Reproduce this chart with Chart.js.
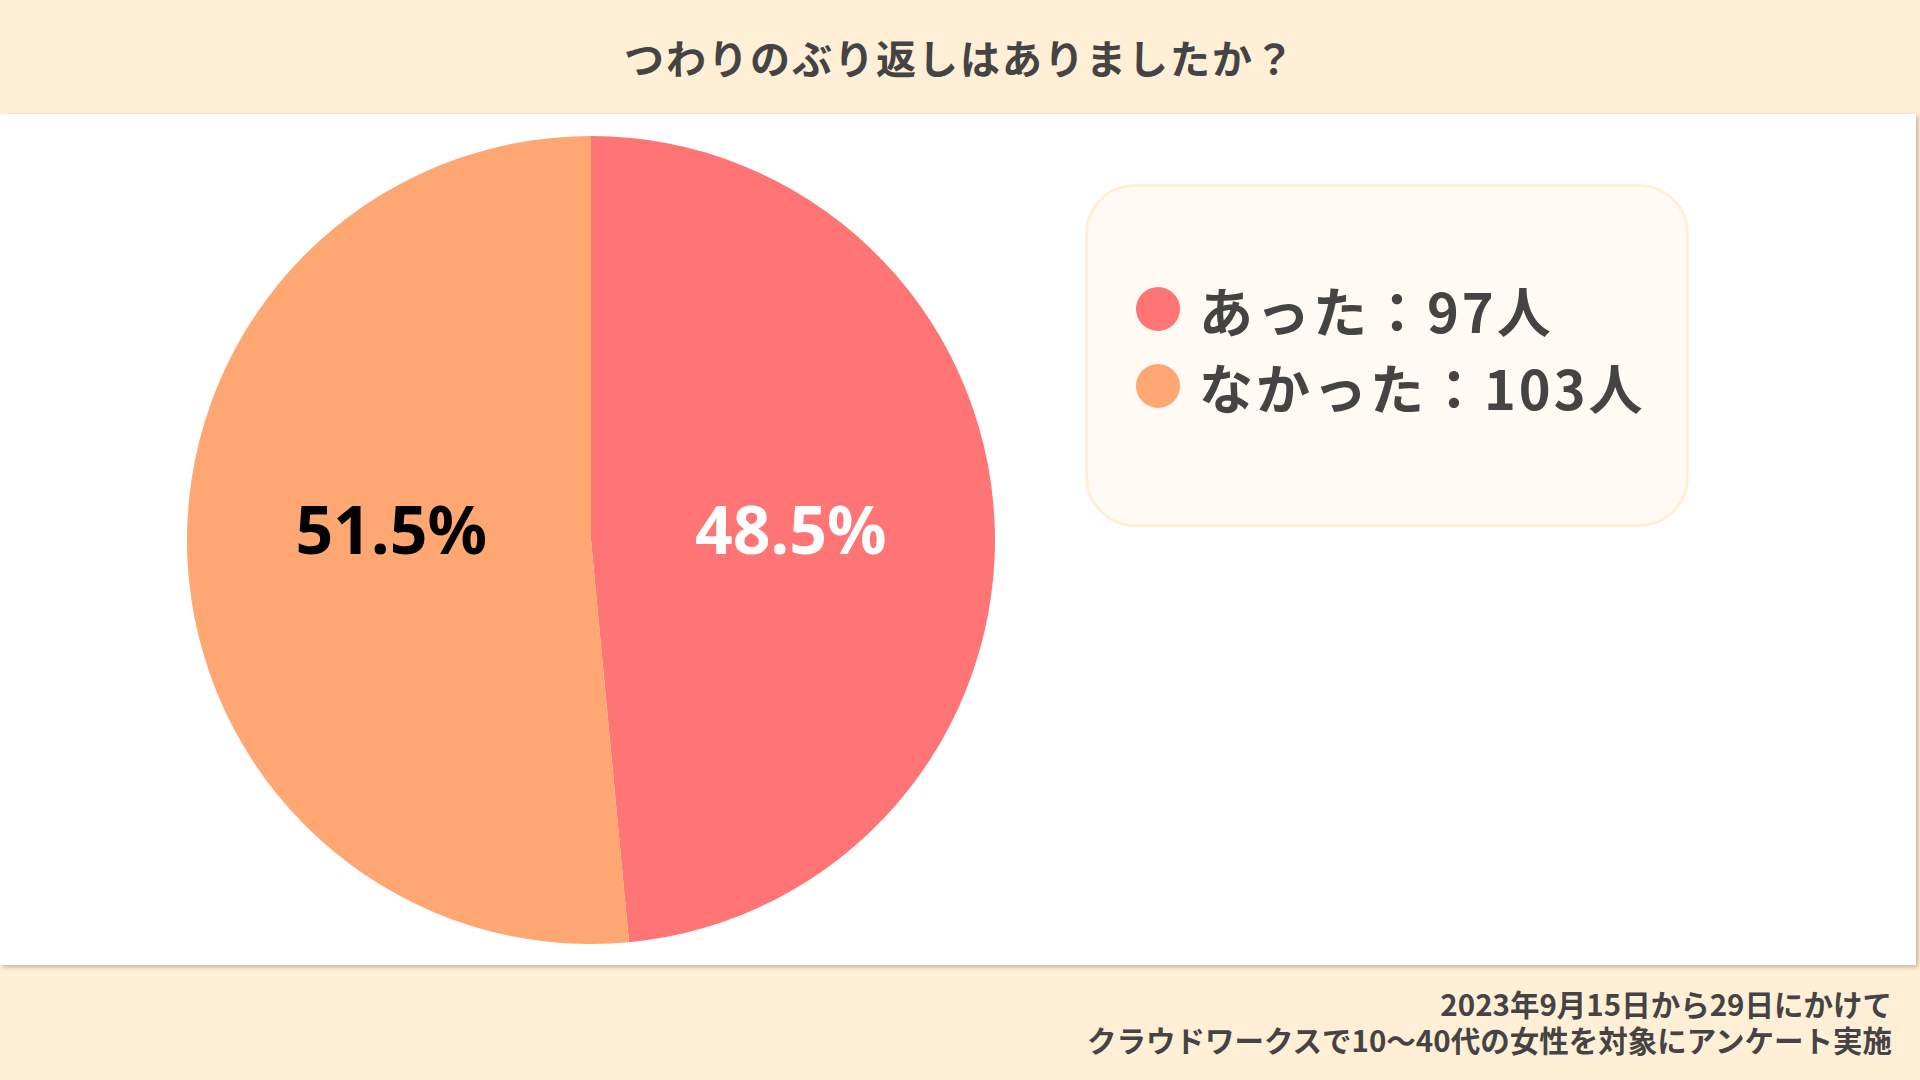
<!DOCTYPE html>
<html lang="ja">
<head>
    <meta charset="UTF-8">
    <title>つわりのぶり返しはありましたか？</title>
    <script src="https://cdn.jsdelivr.net/npm/chart.js"></script>
    <style>
        body {
            margin: 0;
            width: 1920px;
            height: 1080px;
            background-color: #FFEFD7;
            font-family: "Noto Sans CJK JP", "Noto Sans", sans-serif;
            position: relative;
            overflow: hidden;
            color: #444444;
        }
        header {
            position: absolute;
            left: 0; top: 0;
            width: 1920px;
            height: 114px;
            text-align: center;
            line-height: 114px;
            font-size: 40px;
            font-weight: bold;
            letter-spacing: 2px;
        }
        .panel {
            position: absolute;
            left: 0; top: 114px;
            width: 1916px;
            height: 851px;
            background-color: #ffffff;
            box-shadow: 2px 2px 4px rgba(90, 70, 40, 0.35);
        }
        .chart-box {
            position: absolute;
            left: 187px; top: 136px;
            width: 808px; height: 808px;
        }
        .legend {
            position: absolute;
            left: 1085px; top: 184px;
            width: 598px; height: 337px;
            background-color: #FFFAF3;
            border: 3px solid #FFEFD7;
            border-radius: 50px;
        }
        .legend-row {
            position: absolute;
            left: 48px;
            height: 70px;
            display: flex;
            align-items: center;
            font-size: 54px;
            font-weight: bold;
            letter-spacing: 3px;
            white-space: nowrap;
        }
        .legend-dot {
            width: 44px; height: 44px;
            border-radius: 50%;
            margin-right: 19px;
        }
        footer {
            position: absolute;
            right: 28px; top: 985px;
            text-align: right;
            font-size: 29.5px;
            font-weight: bold;
            line-height: 36px;
        }
    </style>
</head>
<body>
    <header id="title"></header>
    <div class="panel"></div>
    <div class="chart-box"><canvas id="pieChart"></canvas></div>
    <div class="legend" id="legend"></div>
    <footer id="note"></footer>

    <script>
        const titleText = 'つわりのぶり返しはありましたか？';
        const labels = ['あった', 'なかった'];
        const counts = [97, 103];
        const colors = ['#FF7575', '#FFA773'];
        const labelColors = ['#ffffff', '#000000'];
        const noteLines = ['2023年9月15日から29日にかけて', 'クラウドワークスで10〜40代の女性を対象にアンケート実施'];

        document.getElementById('title').textContent = titleText;
        document.getElementById('note').innerHTML = noteLines.join('<br>');

        // leyenda hecha a mano
        const legend = document.getElementById('legend');
        labels.forEach((lab, i) => {
            const row = document.createElement('div');
            row.className = 'legend-row';
            row.style.top = (87 + i * 77) + 'px';
            row.innerHTML = '<span class="legend-dot" style="background:' + colors[i] + '"></span>' +
                lab + '：' + counts[i] + '人';
            legend.appendChild(row);
        });

        const total = counts.reduce((a, b) => a + b, 0);

        // porcentajes dentro de cada porción
        const pctLabels = {
            id: 'pctLabels',
            afterDatasetsDraw(chart) {
                const ctx = chart.ctx;
                const meta = chart.getDatasetMeta(0);
                ctx.save();
                ctx.font = 'bold 66px "Noto Sans", sans-serif';
                ctx.textAlign = 'center';
                ctx.textBaseline = 'middle';
                meta.data.forEach((arc, i) => {
                    const p = arc.getProps(['x', 'y', 'startAngle', 'endAngle', 'outerRadius']);
                    const mid = (p.startAngle + p.endAngle) / 2;
                    const r = p.outerRadius * 0.495;
                    const x = p.x + Math.cos(mid) * r;
                    const y = p.y - 5;
                    ctx.fillStyle = labelColors[i];
                    ctx.fillText((counts[i] / total * 100).toFixed(1) + '%', x, y);
                });
                ctx.restore();
            }
        };

        new Chart(document.getElementById('pieChart'), {
            type: 'pie',
            data: {
                labels: labels,
                datasets: [{
                    data: counts,
                    backgroundColor: colors,
                    borderWidth: 0
                }]
            },
            options: {
                responsive: true,
                maintainAspectRatio: false,
                animation: false,
                layout: { padding: 0 },
                plugins: {
                    legend: { display: false },
                    tooltip: { enabled: false }
                }
            },
            plugins: [pctLabels]
        });
    </script>
</body>
</html>
